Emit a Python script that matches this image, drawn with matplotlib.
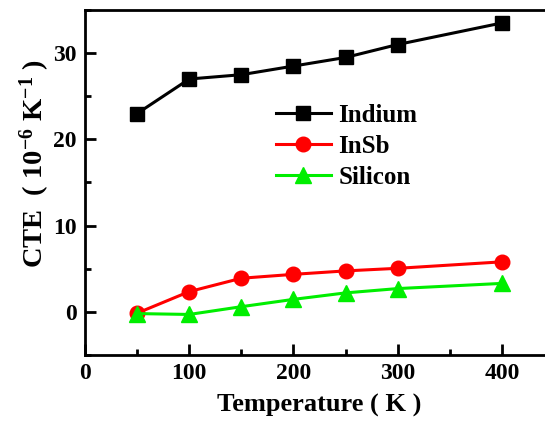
import matplotlib
matplotlib.use("Agg")
import matplotlib.pyplot as plt
from matplotlib.ticker import MultipleLocator

temperature = [50, 100, 150, 200, 250, 300, 400]
indium = [23.0, 27.0, 27.5, 28.5, 29.5, 31.0, 33.5]
insb = [-0.15, 2.35, 3.9, 4.35, 4.75, 5.05, 5.8]
silicon = [-0.2, -0.3, 0.6, 1.45, 2.2, 2.7, 3.3]

plt.rcParams['font.family'] = ['Liberation Serif', 'DejaVu Serif']
plt.rcParams['font.weight'] = 'bold'
plt.rcParams['mathtext.fontset'] = 'custom'
plt.rcParams['mathtext.rm'] = 'Liberation Serif:bold'
plt.rcParams['mathtext.bf'] = 'Liberation Serif:bold'
plt.rcParams['mathtext.default'] = 'bf'

fig = plt.figure(figsize=(5.45, 4.28), dpi=100)
ax = fig.add_axes([0.156, 0.1706, 0.8606, 0.806])

lw = 2.2
ax.plot(temperature, indium, color='black', marker='s', markersize=9.5, lw=lw, label='Indium')
ax.plot(temperature, insb, color='red', marker='o', markersize=10.5, lw=lw, label='InSb')
ax.plot(temperature, silicon, color='#00ee00', marker='^', markersize=11, lw=lw, label='Silicon')

ax.set_xlim(0, 450)
ax.set_ylim(-5, 35)
ax.xaxis.set_major_locator(MultipleLocator(100))
ax.xaxis.set_minor_locator(MultipleLocator(50))
ax.yaxis.set_major_locator(MultipleLocator(10))
ax.yaxis.set_minor_locator(MultipleLocator(5))
ax.tick_params(which='major', direction='in', length=8, width=2, labelsize=17, pad=6)
ax.tick_params(which='minor', direction='in', length=4.5, width=2)
for s in ax.spines.values():
    s.set_linewidth(2)
ax.spines['right'].set_visible(False)

for lab in ax.get_xticklabels() + ax.get_yticklabels():
    lab.set_fontweight('bold')

ax.set_xlabel('Temperature ( K )', fontsize=19, fontweight='bold', labelpad=7)
ax.set_ylabel('CTE  ( 10$^{-6}$ K$^{-1}$ )', fontsize=20.5, fontweight='bold')
ax.yaxis.set_label_coords(-0.07, 0.554)

leg = ax.legend(loc='upper left', bbox_to_anchor=(0.38, 0.765), frameon=False,
                prop={'family': 'Liberation Serif', 'weight': 'bold', 'size': 18},
                handlelength=2.2, handletextpad=0.3, labelspacing=0.33, borderpad=0)

fig.savefig('out.png', dpi=100)
